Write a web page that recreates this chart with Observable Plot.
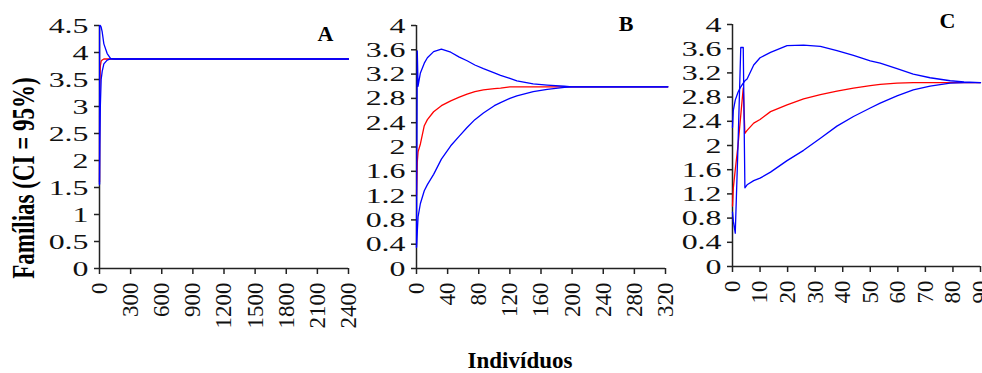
<!DOCTYPE html>
<html>
<head>
<meta charset="utf-8">
<script src="https://cdn.jsdelivr.net/npm/d3@7"></script>
<script src="https://cdn.jsdelivr.net/npm/@observablehq/plot@0.6"></script>
<style>
  html, body { margin: 0; padding: 0; background: #fff; }
  #wrap { position: relative; width: 982px; height: 373px; overflow: hidden; background: #fff;
          font-family: "Liberation Serif", "Times New Roman", serif; color: #000; }
  .panel { position: absolute; top: 0; }
  .ytitle { position: absolute; left: 25px; top: 178px; white-space: nowrap; font-weight: bold; font-size: 23px;
            transform: translate(-50%, -50%) rotate(-90deg) scaleY(1.35); }
  .xtitle { position: absolute; left: 420px; width: 200px; top: 351px; height: 20px; text-align: center; font-weight: bold;
            font-size: 23px; line-height: 20px; }
</style>
</head>
<body>
<div id="wrap">
  <div class="ytitle">Famílias (CI = 95%)</div>
  <div class="xtitle">Indivíduos</div>
</div>
<script>
// ---------- Panel A ----------
const aX     = [0, 1, 3, 8, 16, 26, 42, 74, 106, 150, 2400];
const aUpper = [1.57, 4.5, 4.5, 4.5, 4.47, 4.38, 4.16, 3.98, 3.89, 3.88, 3.88];
const aMean  = [1.6, 2.8, 3.4, 3.75, 3.84, 3.86, 3.88, 3.88, 3.88, 3.88, 3.88];
const aLower = [1.55, 1.8, 2.3, 3.0, 3.5, 3.65, 3.79, 3.86, 3.88, 3.88, 3.88];
const aXTicks = [0, 300, 600, 900, 1200, 1500, 1800, 2100, 2400];
const aYTicks = [0, 0.5, 1, 1.5, 2, 2.5, 3, 3.5, 4, 4.5];

// ---------- Panel B ----------
const bX     = [0, 1, 2, 5, 10, 14, 22, 32, 44, 55, 65, 75, 86, 100, 108, 120, 129, 150, 168, 190, 200, 323];
const bUpper = [0.35, 3.58, 3.0, 3.22, 3.38, 3.47, 3.57, 3.61, 3.56, 3.48, 3.42, 3.35, 3.29, 3.22, 3.18, 3.13, 3.09, 3.04, 3.02, 3.0, 2.99, 2.99];
const bMean  = [1.2, 1.75, 1.92, 2.05, 2.35, 2.45, 2.58, 2.68, 2.76, 2.82, 2.87, 2.91, 2.94, 2.96, 2.97, 2.99, 2.99, 2.99, 2.99, 2.99, 2.99, 2.99];
const bLower = [0.35, 0.6, 0.85, 1.07, 1.28, 1.38, 1.55, 1.8, 2.02, 2.18, 2.32, 2.45, 2.56, 2.68, 2.73, 2.8, 2.84, 2.91, 2.95, 2.98, 2.99, 2.99];
const bXTicks = [0, 40, 80, 120, 160, 200, 240, 280, 320];
const bYTicks = [0, 0.4, 0.8, 1.2, 1.6, 2, 2.4, 2.8, 3.2, 3.6, 4];

// ---------- Panel C ----------
const cX     = [0, 0.3, 1, 2, 3, 3.9, 4.5, 5.3, 7.7, 10, 13.8, 19.8, 25.8, 31.9, 37.9, 43.9, 50, 53.6, 59.7, 65.6, 71.7, 79, 84, 90];
const cUpper = [2.3, 2.58, 2.75, 2.88, 2.97, 3.03, 3.07, 3.1, 3.33, 3.45, 3.54, 3.65, 3.66, 3.64, 3.57, 3.49, 3.4, 3.36, 3.27, 3.18, 3.12, 3.07, 3.05, 3.04];
const cMean  = [1.0, 1.3, 1.6, 2.0, 2.5, 2.95, 2.2, 2.25, 2.37, 2.43, 2.56, 2.67, 2.77, 2.84, 2.9, 2.95, 2.99, 3.01, 3.03, 3.04, 3.04, 3.04, 3.04, 3.04];
const cLower = [0.9, 0.75, 0.55, 2.0, 3.62, 3.62, 1.3, 1.35, 1.42, 1.46, 1.56, 1.75, 1.92, 2.12, 2.32, 2.48, 2.62, 2.7, 2.82, 2.92, 2.98, 3.03, 3.04, 3.04];
const cXTicks = [0, 10, 20, 30, 40, 50, 60, 70, 80, 90];
const cYTicks = [0, 0.4, 0.8, 1.2, 1.6, 2, 2.4, 2.8, 3.2, 3.6, 4];

const letters = ["A", "B", "C"];
const Y_LABEL_STRETCH = 1.45;

function panel(cfg) {
  const {left, width, ml, mr, mt, mb, xDomain, xTicks, yDomain, yTicks, xs, upper, mean, lower, letter, ldx, ldy} = cfg;
  const plot = Plot.plot({
    width, height: 340,
    marginLeft: ml, marginRight: mr, marginTop: mt, marginBottom: mb,
    style: {fontFamily: '"Liberation Serif", "Times New Roman", serif', fontSize: "22px", color: "#000", background: "transparent", overflow: "visible"},
    x: {domain: xDomain},
    y: {domain: yDomain},
    marks: [
      Plot.axisY({ticks: yTicks, tickSize: 5, tickPadding: 6, tickFormat: d => String(d), label: null, stroke: "#222", strokeWidth: 1.5, fontSize: 22, fill: "#111"}),
      Plot.axisX({ticks: xTicks, tickSize: 6, tickPadding: 8, tickRotate: -90, tickFormat: d => String(d), label: null, stroke: "#222", strokeWidth: 1.5, fontSize: 23, fill: "#111"}),
      Plot.ruleX([xDomain[0]], {y1: yDomain[0], y2: yDomain[1], stroke: "#222", strokeWidth: 1.5}),
      Plot.ruleY([yDomain[0]], {stroke: "#222", strokeWidth: 1.5}),
      Plot.line(xs, {x: xs, y: mean, stroke: "#ff0000", strokeWidth: 1.3}),
      Plot.line(xs, {x: xs, y: upper, stroke: "#0000ff", strokeWidth: 1.3}),
      Plot.line(xs, {x: xs, y: lower, stroke: "#0000ff", strokeWidth: 1.3}),
      Plot.text([letter], {text: d => d, frameAnchor: "top-right", dx: ldx, dy: ldy, fontWeight: "bold", fontSize: 22, fill: "#000"})
    ]
  });
  plot.classList.add("panel");
  plot.style.left = left + "px";
  document.getElementById("wrap").appendChild(plot);

  // widen the y tick labels like the reference's stretched glyphs, keeping their right edge in place
  d3.select(plot).selectAll('g[aria-label="y-axis tick label"] text').each(function () {
    const el = this;
    let tr = el.getAttribute("transform") || "";
    const dx = el.getAttribute("dx");
    if (dx != null && !/em$/.test(dx)) { tr += ` translate(${parseFloat(dx)},0)`; el.removeAttribute("dx"); }
    const x = el.getAttribute("x");
    if (x != null && !/em$/.test(x)) el.setAttribute("x", parseFloat(x) / Y_LABEL_STRETCH);
    el.setAttribute("transform", tr + ` scale(${Y_LABEL_STRETCH},1)`);
  });
}

panel({left: 0, width: 362, ml: 99, mr: 14, mt: 25, mb: 72, xDomain: [0, 2400], xTicks: aXTicks, yDomain: [0, 4.5], yTicks: aYTicks,
       xs: aX, upper: aUpper, mean: aMean, lower: aLower, letter: letters[0], ldx: -15, ldy: 0});
panel({left: 362, width: 318, ml: 54, mr: 15, mt: 25, mb: 72, xDomain: [0, 320], xTicks: bXTicks, yDomain: [0, 4], yTicks: bYTicks,
       xs: bX, upper: bUpper, mean: bMean, lower: bLower, letter: letters[1], ldx: -32, ldy: -10});
panel({left: 680, width: 302, ml: 52, mr: 2, mt: 24, mb: 74, xDomain: [0, 90], xTicks: cXTicks, yDomain: [0, 4], yTicks: cYTicks,
       xs: cX, upper: cUpper, mean: cMean, lower: cLower, letter: letters[2], ldx: -25, ldy: -12});
</script>
</body>
</html>
